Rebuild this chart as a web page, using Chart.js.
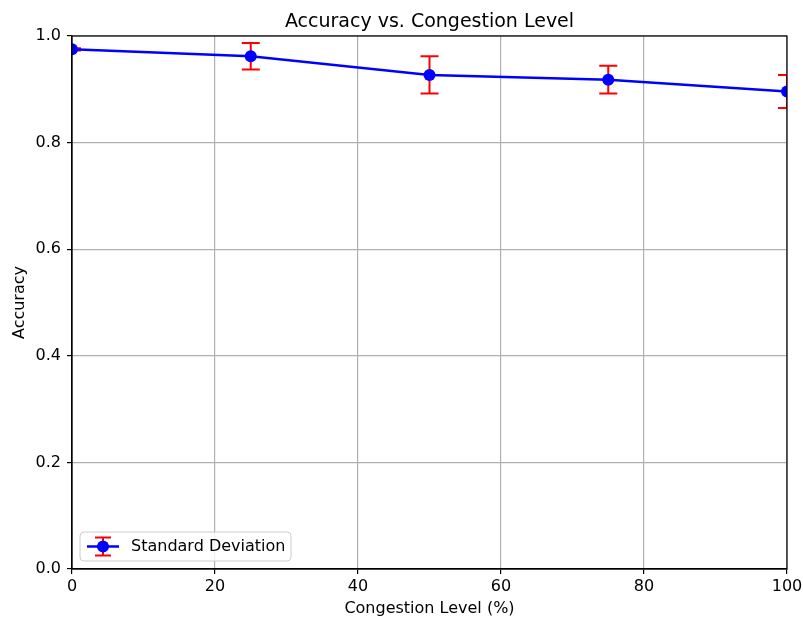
<!DOCTYPE html>
<html>
<head>
<meta charset="utf-8">
<script src="https://cdn.jsdelivr.net/npm/chart.js@4.4.0/dist/chart.umd.min.js"></script>
<style>
html,body{margin:0;padding:0;background:#fff;}
#wrap{width:803px;height:618px;}
</style>
</head>
<body>
<div id="wrap"><canvas id="c" width="803" height="618"></canvas></div>
<script>
const congestionLevels = [0, 25, 50, 75, 100];
const accuracy = [0.975, 0.962, 0.927, 0.918, 0.896];
const stdDev = [0.002, 0.025, 0.035, 0.026, 0.031];
const xTicks = [0, 20, 40, 60, 80, 100];
const yTicks = [0.0, 0.2, 0.4, 0.6, 0.8, 1.0];
const seriesLabel = 'Standard Deviation';
const titleText = 'Accuracy vs. Congestion Level';
const xTitle = 'Congestion Level (%)';
const yTitle = 'Accuracy';

const FONT = "'DejaVu Sans', sans-serif";

const errorBarPlugin = {
  id: 'errorBars',
  beforeDatasetsDraw(chart) {
    const ctx = chart.ctx, a = chart.chartArea;
    const xs = chart.scales.x, ys = chart.scales.y;
    ctx.save();
    ctx.beginPath();
    ctx.rect(a.left, a.top, a.right - a.left, a.bottom - a.top);
    ctx.clip();
    ctx.strokeStyle = '#ff0000';
    ctx.lineWidth = 2;
    for (let i = 0; i < congestionLevels.length; i++) {
      const px = xs.getPixelForValue(congestionLevels[i]);
      const top = ys.getPixelForValue(accuracy[i] + stdDev[i]);
      const bot = ys.getPixelForValue(accuracy[i] - stdDev[i]);
      ctx.beginPath();
      ctx.moveTo(px, top); ctx.lineTo(px, bot);
      ctx.moveTo(px - 9, top); ctx.lineTo(px + 9, top);
      ctx.moveTo(px - 9, bot); ctx.lineTo(px + 9, bot);
      ctx.stroke();
    }
    ctx.restore();
  },
  afterDraw(chart) {
    const ctx = chart.ctx, a = chart.chartArea;
    ctx.save();
    // spines
    ctx.strokeStyle = '#000';
    ctx.lineWidth = 1.2;
    ctx.strokeRect(a.left, a.top, a.right - a.left, a.bottom - a.top);
    // legend
    const bx = a.left + 8, by = a.bottom - 37, bw = 211, bh = 29, r = 4;
    ctx.fillStyle = 'rgba(255,255,255,0.8)';
    ctx.strokeStyle = '#cccccc';
    ctx.lineWidth = 1;
    ctx.beginPath();
    ctx.moveTo(bx + r, by);
    ctx.arcTo(bx + bw, by, bx + bw, by + bh, r);
    ctx.arcTo(bx + bw, by + bh, bx, by + bh, r);
    ctx.arcTo(bx, by + bh, bx, by, r);
    ctx.arcTo(bx, by, bx + bw, by, r);
    ctx.closePath();
    ctx.fill(); ctx.stroke();
    const cx = bx + 23, cy = by + 14.5;
    ctx.strokeStyle = '#ff0000';
    ctx.lineWidth = 2;
    ctx.beginPath();
    ctx.moveTo(cx, cy - 9); ctx.lineTo(cx, cy + 9);
    ctx.moveTo(cx - 8, cy - 9); ctx.lineTo(cx + 8, cy - 9);
    ctx.moveTo(cx - 8, cy + 9); ctx.lineTo(cx + 8, cy + 9);
    ctx.stroke();
    ctx.strokeStyle = '#0000ff';
    ctx.lineWidth = 2.5;
    ctx.beginPath();
    ctx.moveTo(cx - 16, cy); ctx.lineTo(cx + 16, cy);
    ctx.stroke();
    ctx.fillStyle = '#0000ff';
    ctx.beginPath();
    ctx.arc(cx, cy, 6, 0, Math.PI * 2);
    ctx.fill();
    ctx.fillStyle = '#000';
    ctx.font = '16px ' + FONT;
    ctx.textBaseline = 'middle';
    ctx.textAlign = 'left';
    ctx.fillText(chart.data.datasets[0].label, bx + 51, cy + 0.5);
    ctx.restore();
  }
};

new Chart(document.getElementById('c'), {
  type: 'line',
  data: {
    labels: congestionLevels,
    datasets: [{
      label: seriesLabel,
      data: congestionLevels.map((x, i) => ({x: x, y: accuracy[i]})),
      borderColor: '#0000ff',
      backgroundColor: '#0000ff',
      borderWidth: 2.5,
      pointRadius: 6,
      pointHoverRadius: 6,
      pointBorderWidth: 0,
      pointBackgroundColor: '#0000ff',
      tension: 0,
      clip: 0
    }]
  },
  options: {
    responsive: false,
    animation: false,
    events: [],
    layout: { padding: { top: 0, right: 16, left: 0, bottom: 0 } },
    plugins: {
      legend: { display: false },
      tooltip: { enabled: false },
      title: {
        display: true,
        fullSize: false,
        text: titleText,
        color: '#000',
        font: { family: FONT, size: 19, weight: 'normal' },
        padding: { top: 10.5, bottom: 2.7 }
      }
    },
    scales: {
      x: {
        type: 'linear',
        min: 0, max: 100,
        afterBuildTicks(s) { s.ticks = xTicks.map(v => ({value: v})); },
        afterFit(s) { s.height = 49; s.paddingLeft = 0; s.paddingRight = 0; },
        ticks: {
          color: '#000',
          font: { family: FONT, size: 16 },
          padding: 3,
          maxRotation: 0,
          callback: v => String(v)
        },
        grid: { color: '#b0b0b0', lineWidth: 1.2, tickColor: '#000', tickLength: 5, drawTicks: true },
        border: { display: true, color: '#000', width: 1.2 },
        title: {
          display: true, text: xTitle, color: '#000',
          font: { family: FONT, size: 16 },
          padding: { top: 0, bottom: 0 }
        }
      },
      y: {
        type: 'linear',
        min: 0, max: 1,
        afterBuildTicks(s) { s.ticks = yTicks.map(v => ({value: v})); },
        afterFit(s) { s.width = 72; s.paddingTop = 0; s.paddingBottom = 0; },
        ticks: {
          color: '#000',
          font: { family: FONT, size: 16 },
          padding: 6,
          callback: v => Number(v).toFixed(1)
        },
        grid: { color: '#b0b0b0', lineWidth: 1.2, tickColor: '#000', tickLength: 5, drawTicks: true },
        border: { display: true, color: '#000', width: 1.2 },
        title: {
          display: true, text: yTitle, color: '#000',
          font: { family: FONT, size: 16 },
          padding: { top: 10, bottom: 0 }
        }
      }
    }
  },
  plugins: [errorBarPlugin]
});
</script>
</body>
</html>
